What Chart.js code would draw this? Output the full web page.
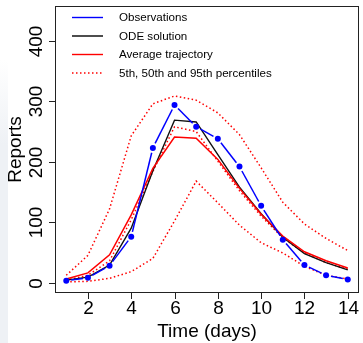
<!DOCTYPE html>
<html>
<head>
<meta charset="utf-8">
<script src="https://cdn.jsdelivr.net/npm/chart.js@4.4.0/dist/chart.umd.min.js"></script>
<style>
  html, body { margin: 0; padding: 0; background: #ffffff; }
  #wrap { width: 363px; height: 343px; position: relative; }
</style>
</head>
<body>
<div id="wrap"><canvas id="myChart" width="363" height="343"></canvas></div>
<script>
// values
const days = [1, 2, 3, 4, 5, 6, 7, 8, 9, 10, 11, 12, 13, 14];
const observations = [3, 8, 28, 76, 223, 294, 258, 238, 192, 127, 71, 29, 12, 5];
const odeSolution = [4, 9, 29, 90, 185, 269, 266, 212, 158, 114, 75, 48, 33, 21];
const averageTrajectory = [6, 16, 46, 112, 189, 241, 239, 204, 156, 113, 77, 51, 36, 24];
const p5 = [1, 2, 7, 18, 40, 102, 168, 132, 95, 66, 49, 27, 12, 6];
const p50 = [4, 12, 36, 104, 184, 258, 250, 201, 152, 110, 74, 49, 33, 22];
const p95 = [12, 45, 122, 243, 296, 309, 302, 281, 245, 190, 133, 97, 73, 53];

const xTicks = [2, 4, 6, 8, 10, 12, 14];
const yTicks = [0, 100, 200, 300, 400];
const legendLabels = ['Observations', 'ODE solution', 'Average trajectory', '5th, 50th and 95th percentiles'];
const xTitle = 'Time (days)';
const yTitle = 'Reports';

const FONT = '"Liberation Sans", Arial, Helvetica, sans-serif';

function toPoints(values) {
    return values.map((v, i) => ({ x: days[i], y: v }));
}

const dotted = {
    borderColor: '#ff0000',
    borderWidth: 1.5,
    borderDash: [1.5, 2.5],
    pointRadius: 0,
    fill: false,
    tension: 0
};

// R type="b": line segments stop short of each point
const gappedLine = {
    id: 'gappedLine',
    afterDatasetsDraw(chart) {
        const pts = chart.getDatasetMeta(0).data;
        const gap = 5;
        const ctx = chart.ctx;
        ctx.save();
        ctx.strokeStyle = '#0000ff';
        ctx.lineWidth = 1.5;
        for (let i = 0; i < pts.length - 1; i++) {
            const p = pts[i], q = pts[i + 1];
            const dx = q.x - p.x, dy = q.y - p.y;
            const len = Math.hypot(dx, dy);
            if (len <= gap * 2) continue;
            const ux = dx / len, uy = dy / len;
            ctx.beginPath();
            ctx.moveTo(p.x + ux * gap, p.y + uy * gap);
            ctx.lineTo(q.x - ux * gap, q.y - uy * gap);
            ctx.stroke();
        }
        ctx.restore();
    }
};

// draws the R-style box, axes, labels and legend
const rAxes = {
    id: 'rAxes',
    afterDraw(chart) {
        const { ctx, chartArea: a, scales: { x, y } } = chart;
        ctx.save();
        ctx.strokeStyle = '#222';
        ctx.lineWidth = 1;
        ctx.strokeRect(Math.round(a.left) + 0.5, Math.round(a.top) + 0.5,
            Math.round(a.width) - 1, Math.round(a.height) - 1);

        ctx.fillStyle = '#000';
        ctx.font = '19px ' + FONT;

        // y ticks
        yTicks.forEach(v => {
            const py = Math.round(y.getPixelForValue(v)) + 0.5;
            ctx.beginPath();
            ctx.moveTo(a.left - 6, py);
            ctx.lineTo(a.left, py);
            ctx.stroke();
            ctx.save();
            ctx.translate(42, py);
            ctx.rotate(-Math.PI / 2);
            ctx.textAlign = 'center';
            ctx.textBaseline = 'alphabetic';
            ctx.fillText(String(v), 0, 0);
            ctx.restore();
        });

        // x ticks
        const by = Math.round(a.bottom);
        xTicks.forEach(v => {
            const px = Math.round(x.getPixelForValue(v)) + 0.5;
            ctx.beginPath();
            ctx.moveTo(px, by);
            ctx.lineTo(px, by + 6);
            ctx.stroke();
            ctx.textAlign = 'center';
            ctx.textBaseline = 'alphabetic';
            ctx.fillText(String(v), px, 313.5);
        });

        // axis titles
        ctx.textAlign = 'center';
        ctx.fillText(xTitle, (a.left + a.right) / 2, 337);
        ctx.save();
        ctx.translate(21, (a.top + a.bottom) / 2);
        ctx.rotate(-Math.PI / 2);
        ctx.fillText(yTitle, 0, 0);
        ctx.restore();

        // legend
        const rows = [17.5, 36, 54.5, 73];
        const styles = [
            { color: '#0000ff', dash: [] },
            { color: '#000000', dash: [] },
            { color: '#ff0000', dash: [] },
            { color: '#ff0000', dash: [1.5, 2.5] }
        ];
        ctx.font = '11.6px ' + FONT;
        ctx.textAlign = 'left';
        ctx.textBaseline = 'middle';
        legendLabels.forEach((label, i) => {
            ctx.strokeStyle = styles[i].color;
            ctx.lineWidth = 1.4;
            ctx.setLineDash(styles[i].dash);
            ctx.beginPath();
            ctx.moveTo(72, rows[i]);
            ctx.lineTo(103, rows[i]);
            ctx.stroke();
            ctx.setLineDash([]);
            ctx.fillStyle = '#000';
            ctx.fillText(label, 119, rows[i] + 0.5);
        });

        // pale strip at the left edge of the picture (clips the title a little)
        const g = ctx.createLinearGradient(0, 60, 0, 343);
        g.addColorStop(0, '#ffffff');
        g.addColorStop(0.3, '#eef1f5');
        g.addColorStop(1, '#eef1f5');
        ctx.fillStyle = g;
        ctx.fillRect(0, 0, 8, 343);
        ctx.restore();
    }
};

const ctx = document.getElementById('myChart').getContext('2d');
const myChart = new Chart(ctx, {
    type: 'line',
    data: {
        datasets: [
            {
                label: legendLabels[0],
                data: toPoints(observations),
                showLine: false,
                borderColor: '#0000ff',
                pointRadius: 3,
                pointBackgroundColor: '#0000ff',
                pointBorderWidth: 0
            },
            {
                label: legendLabels[2],
                data: toPoints(averageTrajectory),
                borderColor: '#ff0000',
                borderWidth: 1.5,
                pointRadius: 0,
                tension: 0
            },
            {
                label: legendLabels[1],
                data: toPoints(odeSolution),
                borderColor: '#111111',
                borderWidth: 1.4,
                pointRadius: 0,
                tension: 0
            },
            Object.assign({ label: '50th', data: toPoints(p50) }, dotted),
            Object.assign({ label: '5th', data: toPoints(p5) }, dotted),
            Object.assign({ label: '95th', data: toPoints(p95) }, dotted)
        ]
    },
    options: {
        responsive: false,
        animation: false,
        devicePixelRatio: 1,
        layout: { padding: { left: 55, right: 2, top: 6, bottom: 50 } },
        plugins: { legend: { display: false }, tooltip: { enabled: false } },
        scales: {
            x: { type: 'linear', min: 0.48, max: 14.52, display: false },
            y: { type: 'linear', min: -17.3, max: 458, display: false }
        }
    },
    plugins: [gappedLine, rAxes]
});
</script>
</body>
</html>
